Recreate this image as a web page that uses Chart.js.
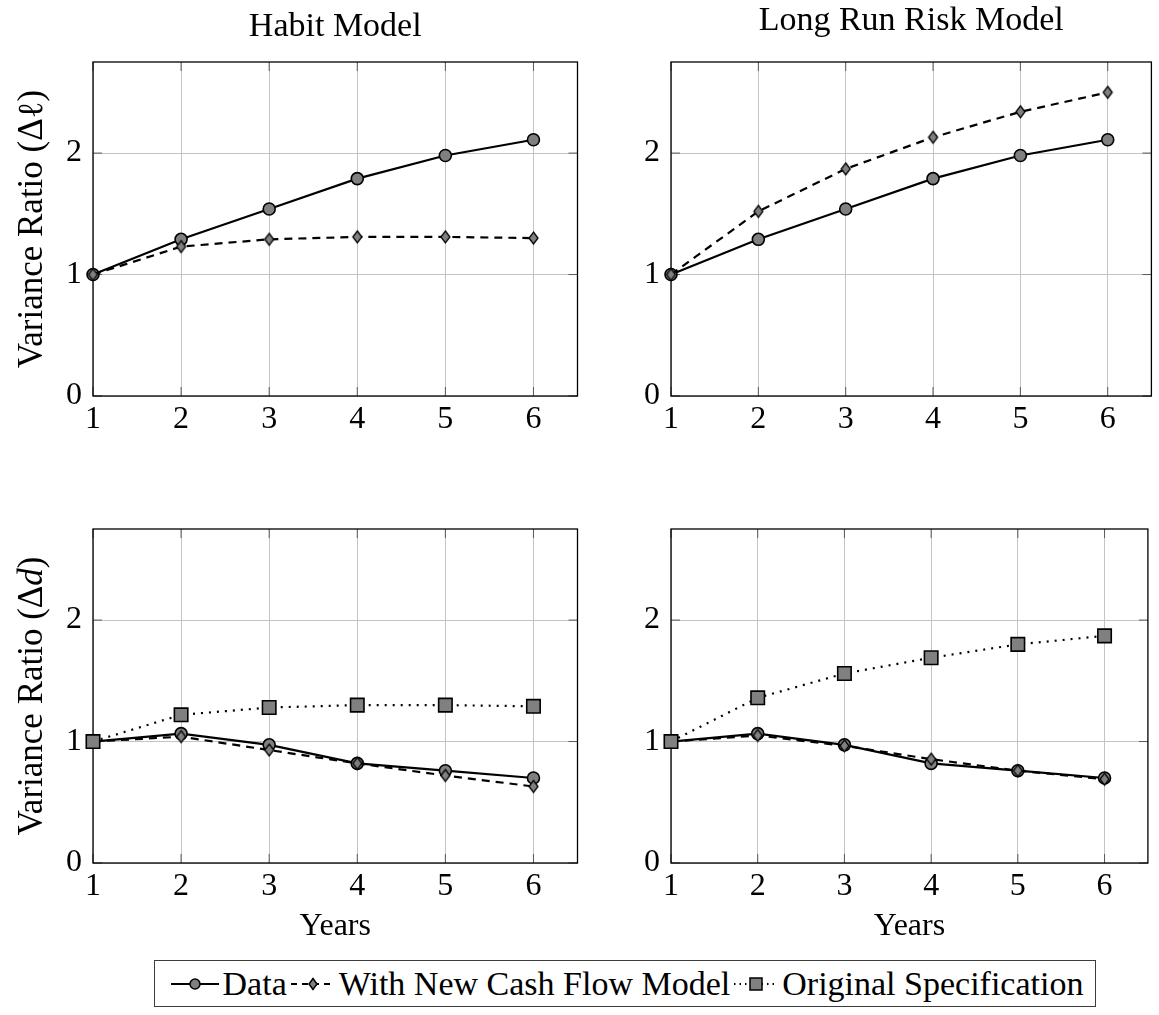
<!DOCTYPE html>
<html>
<head>
<meta charset="utf-8">
<title>Variance Ratios</title>
<script src="https://cdn.jsdelivr.net/npm/chart.js@4.4.1/dist/chart.umd.min.js"></script>
<style>
  html, body { margin: 0; padding: 0; background: #fff; }
  #page { position: relative; width: 1159px; height: 1015px; overflow: hidden; }
  #page canvas.panel { position: absolute; }
  #legend {
    position: absolute; left: 154px; top: 960px; width: 940px; height: 45px;
    border: 1px solid #3c3c3c; display: flex; align-items: center; justify-content: center;
    font-family: 'Liberation Serif', 'DejaVu Serif', serif; font-size: 34px; color: #000;
  }
  #legend canvas { margin: 0 4px; }
  #legend span { white-space: nowrap; }
</style>
</head>
<body>
<div id="page">
  <canvas id="habitLevel" class="panel" width="600" height="450" style="left:0;top:0"></canvas>
  <canvas id="lrrLevel" class="panel" width="581" height="450" style="left:578px;top:0"></canvas>
  <canvas id="habitDiv" class="panel" width="600" height="500" style="left:0;top:460px"></canvas>
  <canvas id="lrrDiv" class="panel" width="581" height="500" style="left:578px;top:460px"></canvas>
  <div id="legend">
    <canvas id="sample0" width="48" height="30"></canvas><span>Data</span>
    <canvas id="sample1" width="44" height="30"></canvas><span>With New Cash Flow Model</span>
    <canvas id="sample2" width="44" height="30"></canvas><span>Original Specification</span>
  </div>
</div>
<script>
// Years on the x axis and the tick values shown on the axes.
var years = [1, 2, 3, 4, 5, 6];
var xTicks = [1, 2, 3, 4, 5, 6];
var yTicks = [0, 1, 2];

// Top row: variance ratio of the level series.
var levelData = [1.00, 1.29, 1.54, 1.79, 1.98, 2.11];
var habitLevelNewCF = [1.00, 1.23, 1.29, 1.31, 1.31, 1.30];
var lrrLevelNewCF = [1.00, 1.52, 1.87, 2.13, 2.34, 2.50];

// Bottom row: variance ratio of dividends.
var divData = [1.00, 1.065, 0.973, 0.82, 0.76, 0.70];
var habitDivNewCF = [1.00, 1.04, 0.93, 0.82, 0.72, 0.63];
var habitDivOriginal = [1.00, 1.22, 1.28, 1.30, 1.30, 1.29];
var lrrDivNewCF = [1.00, 1.05, 0.965, 0.855, 0.76, 0.69];
var lrrDivOriginal = [1.00, 1.36, 1.56, 1.69, 1.80, 1.87];

var seriesNames = ['Data', 'With New Cash Flow Model', 'Original Specification'];

var serif = "'Liberation Serif', 'DejaVu Serif', serif";
var gridColor = '#c4c4c4';
var markFill = '#808080';

// Tall diamond marker (pgfplots style), used as a point image.
function makeDiamond(w, h) {
    var c = document.createElement('canvas');
    c.width = w + 4;
    c.height = h + 4;
    var g = c.getContext('2d');
    var cx = c.width / 2, cy = c.height / 2;
    g.beginPath();
    g.moveTo(cx, cy - h / 2);
    g.lineTo(cx + w / 2, cy);
    g.lineTo(cx, cy + h / 2);
    g.lineTo(cx - w / 2, cy);
    g.closePath();
    g.fillStyle = markFill;
    g.fill();
    g.lineWidth = 1.3;
    g.strokeStyle = '#000';
    g.stroke();
    return c;
}
var diamond = makeDiamond(9, 12);

function points(values) {
    return years.map(function(yr, i) {
        return {x: yr, y: values[i]};
    });
}

// kind 0 = data (solid, circles), 1 = new cash flow (dashed, diamonds), 2 = original (dotted, squares)
function series(kind, values) {
    var ds = {
        label: seriesNames[kind],
        data: points(values),
        borderColor: '#000',
        borderWidth: 2.2,
        pointBorderColor: '#000',
        pointBackgroundColor: markFill,
        pointBorderWidth: 1.6,
        tension: 0,
        clip: false,
        order: 3 - kind
    };
    if (kind === 0) {
        ds.pointStyle = 'circle';
        ds.pointRadius = 6;
    } else if (kind === 1) {
        ds.pointStyle = diamond;
        ds.pointRadius = 5;
        ds.borderDash = [8, 6];
    } else {
        ds.pointStyle = 'rect';
        ds.pointRadius = 9.5;
        ds.borderDash = [2, 6];
    }
    return ds;
}

// Box around the plot area plus the small inner tick marks.
var frame = {
    id: 'frame',
    beforeDatasetsDraw: function(chart) {
        var a = chart.chartArea, ctx = chart.ctx;
        var xs = chart.scales.x, ys = chart.scales.y;
        ctx.save();
        ctx.strokeStyle = '#5a5a5a';
        ctx.lineWidth = 1;
        ctx.beginPath();
        xTicks.forEach(function(v) {
            var p = xs.getPixelForValue(v);
            ctx.moveTo(p, a.bottom);
            ctx.lineTo(p, a.bottom - 9);
            ctx.moveTo(p, a.top);
            ctx.lineTo(p, a.top + 9);
        });
        yTicks.forEach(function(v) {
            var p = ys.getPixelForValue(v);
            ctx.moveTo(a.left, p);
            ctx.lineTo(a.left + 9, p);
            ctx.moveTo(a.right, p);
            ctx.lineTo(a.right - 9, p);
        });
        ctx.stroke();
        ctx.strokeStyle = '#000';
        ctx.lineWidth = 1.3;
        ctx.strokeRect(a.left, a.top, a.right - a.left, a.bottom - a.top);
        ctx.restore();
    }
};

// Panel title, centred over the plot area.
var panelTitle = {
    id: 'panelTitle',
    afterDraw: function(chart, args, opts) {
        if (!opts.text) {
            return;
        }
        var ctx = chart.ctx, a = chart.chartArea;
        ctx.save();
        ctx.font = '34px ' + serif;
        ctx.fillStyle = '#000';
        ctx.textAlign = 'center';
        ctx.textBaseline = 'alphabetic';
        ctx.fillText(opts.text, (a.left + a.right) / 2, opts.baseline);
        ctx.restore();
    }
};

// Rotated y axis title with an optional italic part.
var yTitle = {
    id: 'yTitle',
    afterDraw: function(chart, args, opts) {
        if (!opts.parts) {
            return;
        }
        var ctx = chart.ctx, a = chart.chartArea;
        var size = '35px ';
        ctx.save();
        var widths = opts.parts.map(function(p) {
            ctx.font = (p.italic ? 'italic ' : '') + size + serif;
            return ctx.measureText(p.text).width;
        });
        var total = widths.reduce(function(s, w) { return s + w; }, 0);
        ctx.translate(opts.x, (a.top + a.bottom) / 2);
        ctx.rotate(-Math.PI / 2);
        ctx.fillStyle = '#000';
        ctx.textBaseline = 'alphabetic';
        ctx.textAlign = 'left';
        var x = -total / 2;
        opts.parts.forEach(function(p, i) {
            ctx.font = (p.italic ? 'italic ' : '') + size + serif;
            ctx.fillText(p.text, x, 0);
            x += widths[i];
        });
        ctx.restore();
    }
};

function makePanel(id, cfg) {
    var tickFont = {family: serif, size: 32, lineHeight: 1.2};
    return new Chart(document.getElementById(id), {
        type: 'line',
        data: {datasets: cfg.datasets},
        options: {
            responsive: false,
            animation: false,
            events: [],
            devicePixelRatio: 1,
            layout: {padding: {top: cfg.padTop, right: cfg.padRight, left: 0, bottom: 0}},
            plugins: {
                legend: {display: false},
                tooltip: {enabled: false},
                title: {display: false},
                panelTitle: cfg.title || {},
                yTitle: cfg.yTitle || {}
            },
            scales: {
                x: {
                    type: 'linear',
                    min: 1,
                    max: 6.5,
                    afterBuildTicks: function(s) {
                        s.ticks = xTicks.map(function(v) { return {value: v}; });
                    },
                    afterFit: function(s) { s.height = cfg.xHeight; },
                    grid: {color: gridColor, lineWidth: 1, drawTicks: false},
                    border: {display: false},
                    ticks: {
                        color: '#000', font: tickFont, padding: 4, maxRotation: 0, autoSkip: false,
                        callback: function(v) { return String(v); }
                    },
                    title: cfg.years ? {
                        display: true, text: 'Years', color: '#000', font: tickFont,
                        padding: {top: 0, bottom: 14}
                    } : {display: false}
                },
                y: {
                    type: 'linear',
                    min: 0,
                    max: 2.75,
                    afterBuildTicks: function(s) {
                        s.ticks = yTicks.map(function(v) { return {value: v}; });
                    },
                    afterFit: function(s) { s.width = 93; },
                    grid: {color: gridColor, lineWidth: 1, drawTicks: false},
                    border: {display: false},
                    ticks: {
                        color: '#000', font: tickFont, padding: 11,
                        callback: function(v) { return String(v); }
                    }
                }
            }
        },
        plugins: [frame, panelTitle, yTitle]
    });
}

makePanel('habitLevel', {
    datasets: [series(0, levelData), series(1, habitLevelNewCF)],
    title: {text: 'Habit Model', baseline: 36},
    padTop: 62, padRight: 22.5, xHeight: 54,
    yTitle: {x: 42, parts: [{text: 'Variance Ratio (\u0394\u2113)'}]}
});
makePanel('lrrLevel', {
    datasets: [series(0, levelData), series(1, lrrLevelNewCF)],
    title: {text: 'Long Run Risk Model', baseline: 30},
    padTop: 62, padRight: 3, xHeight: 54
});
makePanel('habitDiv', {
    datasets: [series(0, divData), series(1, habitDivNewCF), series(2, habitDivOriginal)],
    padTop: 69, padRight: 22.5, xHeight: 97, years: true,
    yTitle: {x: 42, parts: [{text: 'Variance Ratio (\u0394'}, {text: 'd', italic: true}, {text: ')'}]}
});
makePanel('lrrDiv', {
    datasets: [series(0, divData), series(1, lrrDivNewCF), series(2, lrrDivOriginal)],
    padTop: 69, padRight: 3, xHeight: 97, years: true
});

// Legend samples: a short line in the series style with its marker in the middle.
function drawSample(id, kind) {
    var c = document.getElementById(id);
    var g = c.getContext('2d');
    var cy = c.height / 2, cx = c.width / 2;
    g.strokeStyle = '#000';
    g.lineWidth = 2;
    if (kind === 1) g.setLineDash([6, 5]);
    if (kind === 2) g.setLineDash([1.5, 4]);
    g.beginPath();
    g.moveTo(0, cy);
    g.lineTo(c.width, cy);
    g.stroke();
    g.setLineDash([]);
    g.fillStyle = markFill;
    g.lineWidth = 1.5;
    g.beginPath();
    if (kind === 0) {
        g.arc(cx, cy, 5, 0, Math.PI * 2);
    } else if (kind === 1) {
        g.moveTo(cx, cy - 5.5); g.lineTo(cx + 4, cy); g.lineTo(cx, cy + 5.5); g.lineTo(cx - 4, cy); g.closePath();
    } else {
        g.rect(cx - 6, cy - 6, 12, 12);
    }
    g.fill();
    g.stroke();
}
drawSample('sample0', 0);
drawSample('sample1', 1);
drawSample('sample2', 2);
</script>
</body>
</html>
